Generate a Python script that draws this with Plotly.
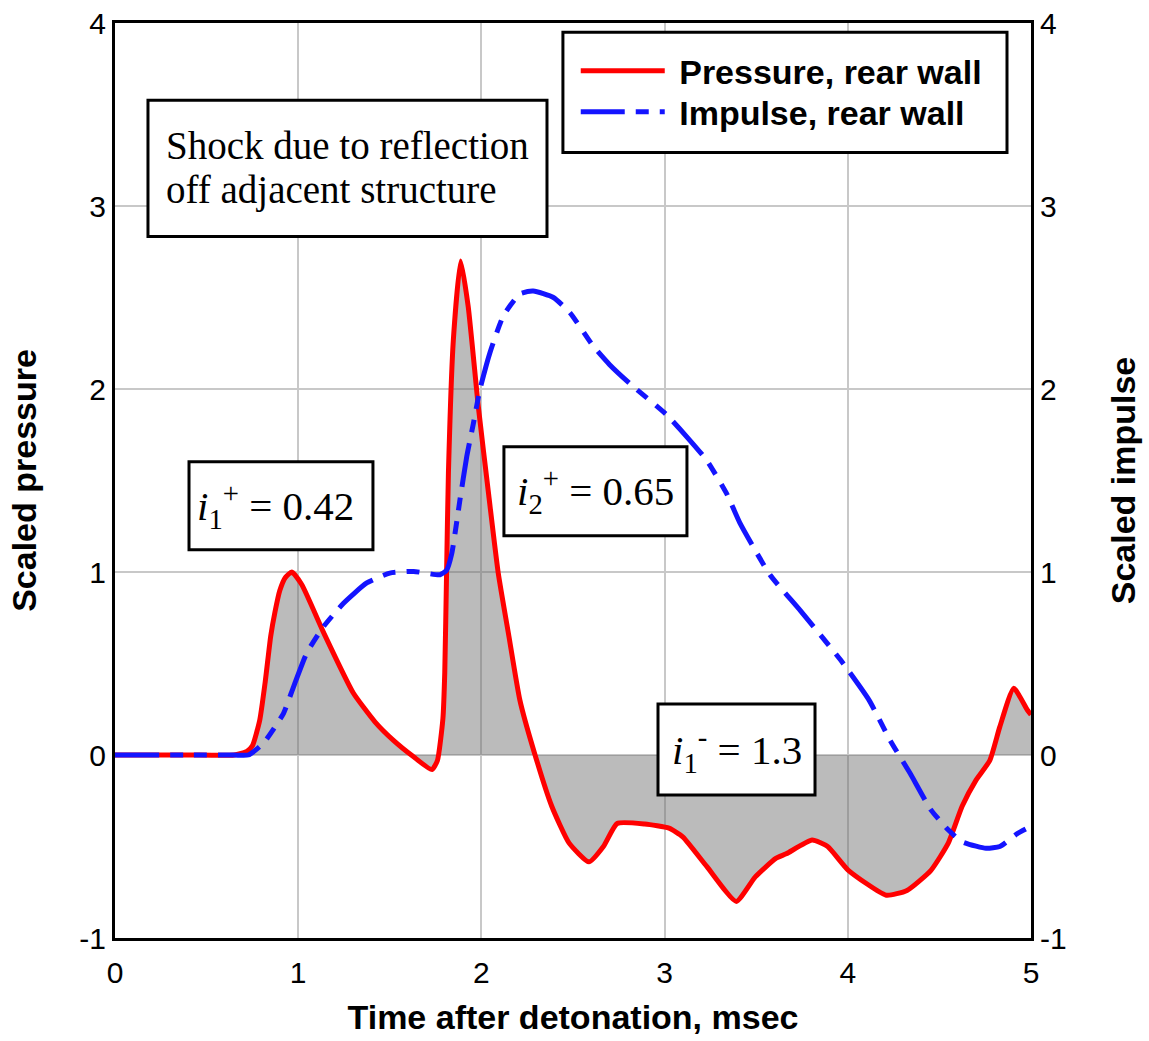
import plotly.graph_objects as go

# Scaled pressure on the rear wall (time in msec)
t_pressure = [0.0, 0.4, 0.65, 0.72, 0.75, 0.79, 0.82, 0.85, 0.873, 0.90, 0.93, 0.965,
              1.02, 1.14, 1.30, 1.42, 1.52, 1.63, 1.73, 1.76, 1.79, 1.80, 1.81, 1.82,
              1.847, 1.887, 1.928, 1.983, 2.04, 2.092, 2.15, 2.21, 2.29, 2.384, 2.478,
              2.587, 2.666, 2.741, 2.892, 3.024, 3.099, 3.231, 3.391, 3.495, 3.607,
              3.664, 3.805, 3.89, 4.003, 4.21, 4.323, 4.454, 4.549, 4.624, 4.70, 4.775,
              4.83, 4.906, 4.98, 5.0]
pressure = [0.0, 0.0, 0.0, 0.02, 0.05, 0.19, 0.40, 0.65, 0.78, 0.90, 0.97, 1.0,
            0.93, 0.666, 0.34, 0.18, 0.08, -0.01, -0.08, -0.03, 0.20, 0.45, 1.0, 1.54,
            2.27, 2.70, 2.45, 1.905, 1.42, 0.994, 0.65, 0.30, 0.01, -0.28, -0.48,
            -0.584, -0.50, -0.374, -0.377, -0.40, -0.447, -0.61, -0.80, -0.666, -0.565,
            -0.54, -0.465, -0.50, -0.63, -0.766, -0.74, -0.63, -0.48, -0.28, -0.137,
            -0.03, 0.155, 0.365, 0.246, 0.22]

# Scaled impulse on the rear wall
t_impulse = [0.0, 0.4, 0.65, 0.727, 0.81, 0.92, 0.975, 1.046, 1.137, 1.246, 1.374,
             1.50, 1.63, 1.774, 1.81, 1.838, 1.883, 1.92, 1.956, 1.992, 2.047, 2.12,
             2.21, 2.283, 2.393, 2.484, 2.61, 2.70, 2.81, 3.01, 3.12, 3.23, 3.338,
             3.41, 3.575, 3.74, 3.96, 4.116, 4.23, 4.34, 4.454, 4.549, 4.624, 4.755,
             4.83, 4.925, 5.0]
impulse = [0.0, 0.0, 0.0, 0.0, 0.064, 0.228, 0.374, 0.556, 0.70, 0.828, 0.94,
           0.994, 1.003, 0.985, 1.01, 1.10, 1.395, 1.63, 1.81, 1.997, 2.20, 2.40,
           2.52, 2.535, 2.50, 2.416, 2.235, 2.133, 2.03, 1.86, 1.74, 1.61, 1.43,
           1.27, 0.985, 0.79, 0.52, 0.30, 0.082, -0.10, -0.30, -0.41, -0.474, -0.51,
           -0.50, -0.43, -0.39]

axis_ticks = [-1, 0, 1, 2, 3, 4]
time_ticks = [0, 1, 2, 3, 4, 5]

# Text boxes: (x0, x1, y0, y1) in data units
box_shock = (0.180, 2.358, 2.834, 3.578)
box_i1p = (0.404, 1.408, 1.121, 1.603)
box_i2p = (2.123, 3.122, 1.198, 1.685)
box_i1m = (2.964, 3.821, -0.219, 0.279)
box_legend = (2.445, 4.869, 3.293, 3.950)

SANS = "Liberation Sans, Arial, sans-serif"
SERIF = "Liberation Serif, Times New Roman, serif"

fig = go.Figure()

# Shaded area between the pressure curve and zero
fig.add_trace(go.Scatter(
    x=t_pressure, y=pressure, mode="lines", showlegend=False, hoverinfo="skip",
    line=dict(color="rgba(0,0,0,0)", width=0, shape="spline", smoothing=0.5),
    fill="tozeroy", fillcolor="rgba(105,105,105,0.45)",
))

fig.add_trace(go.Scatter(
    x=t_pressure, y=pressure, mode="lines",
    name="\u00a0<b>Pressure, rear wall</b>",
    line=dict(color="#ff0000", width=5, shape="spline", smoothing=0.5),
    legend="legend",
))

fig.add_trace(go.Scatter(
    x=t_impulse, y=impulse, mode="lines",
    name="\u00a0<b>Impulse, rear wall</b>",
    line=dict(color="#1414ff", width=5, shape="spline", smoothing=0.5,
              dash="44px,11px,13px,11px,13px,11px"),
    yaxis="y2", legend="legend2",
))

for (x0, x1, y0, y1) in [box_shock, box_i1p, box_i2p, box_i1m, box_legend]:
    fig.add_shape(type="rect", xref="x", yref="y", x0=x0, x1=x1, y0=y0, y1=y1,
                  line=dict(color="black", width=3), fillcolor="white",
                  layer="above")

txt = dict(showarrow=False, xref="x", yref="y",
           font=dict(family=SERIF, size=39, color="black"))
fig.add_annotation(x=box_shock[0] + 0.09, y=3.33, xanchor="left", yanchor="middle",
                   text="Shock due to reflection", **txt)
fig.add_annotation(x=box_shock[0] + 0.09, y=3.085, xanchor="left", yanchor="middle",
                   text="off adjacent structure", **txt)

lab = dict(showarrow=False, xref="x", yref="y",
           font=dict(family=SERIF, size=41, color="black"))
fig.add_annotation(x=(box_i1p[0] + box_i1p[1]) / 2 - 0.03,
                   y=(box_i1p[2] + box_i1p[3]) / 2,
                   text="<i>i</i><sub>1</sub><sup>+</sup> = 0.42", **lab)
fig.add_annotation(x=(box_i2p[0] + box_i2p[1]) / 2,
                   y=(box_i2p[2] + box_i2p[3]) / 2,
                   text="<i>i</i><sub>2</sub><sup>+</sup> = 0.65", **lab)
fig.add_annotation(x=(box_i1m[0] + box_i1m[1]) / 2,
                   y=(box_i1m[2] + box_i1m[3]) / 2,
                   text="<i>i</i><sub>1</sub><sup>-</sup> = 1.3", **lab)

legend_common = dict(
    x=0.503, xanchor="left", yanchor="middle",
    bgcolor="rgba(0,0,0,0)", borderwidth=0,
    font=dict(family=SANS, size=34, color="black"),
    itemwidth=84,
)

fig.update_layout(
    width=1149, height=1041,
    margin=dict(l=115, r=118, t=23, b=103, pad=0),
    paper_bgcolor="white", plot_bgcolor="white",
    font=dict(family=SANS, size=30, color="black"),
    showlegend=True,
    legend=dict(y=0.9475, **legend_common),
    legend2=dict(y=0.9027, **legend_common),
    xaxis=dict(
        range=[0, 5], tickvals=time_ticks, ticktext=[str(v) for v in time_ticks],
        tickfont=dict(family=SANS, size=30), automargin=False, ticklabelstandoff=6,
        showgrid=True, gridcolor="#c8c8c8", gridwidth=1.5, zeroline=False,
        showline=True, linecolor="black", linewidth=3, mirror=True, ticks="",
        title=dict(text="<b>Time after detonation, msec</b>", standoff=18,
                   font=dict(family=SANS, size=34)),
    ),
    yaxis=dict(
        range=[-1, 4], tickvals=axis_ticks, ticktext=[str(v) for v in axis_ticks],
        tickfont=dict(family=SANS, size=30), automargin=False,
        showgrid=True, gridcolor="#c8c8c8", gridwidth=1.5, zeroline=False,
        showline=True, linecolor="black", linewidth=3, mirror=True, ticks="",
        title=dict(text="<b>Scaled pressure</b>", standoff=33,
                   font=dict(family=SANS, size=34)),
    ),
    yaxis2=dict(
        range=[-1, 4], tickvals=axis_ticks, ticktext=[str(v) for v in axis_ticks],
        tickfont=dict(family=SANS, size=30), automargin=False,
        overlaying="y", side="right", showgrid=False, zeroline=False,
        showline=True, linecolor="black", linewidth=3, ticks="",
        title=dict(text="<b>Scaled impulse</b>", standoff=46,
                   font=dict(family=SANS, size=34)),
    ),
)

fig.write_html("out.html")
